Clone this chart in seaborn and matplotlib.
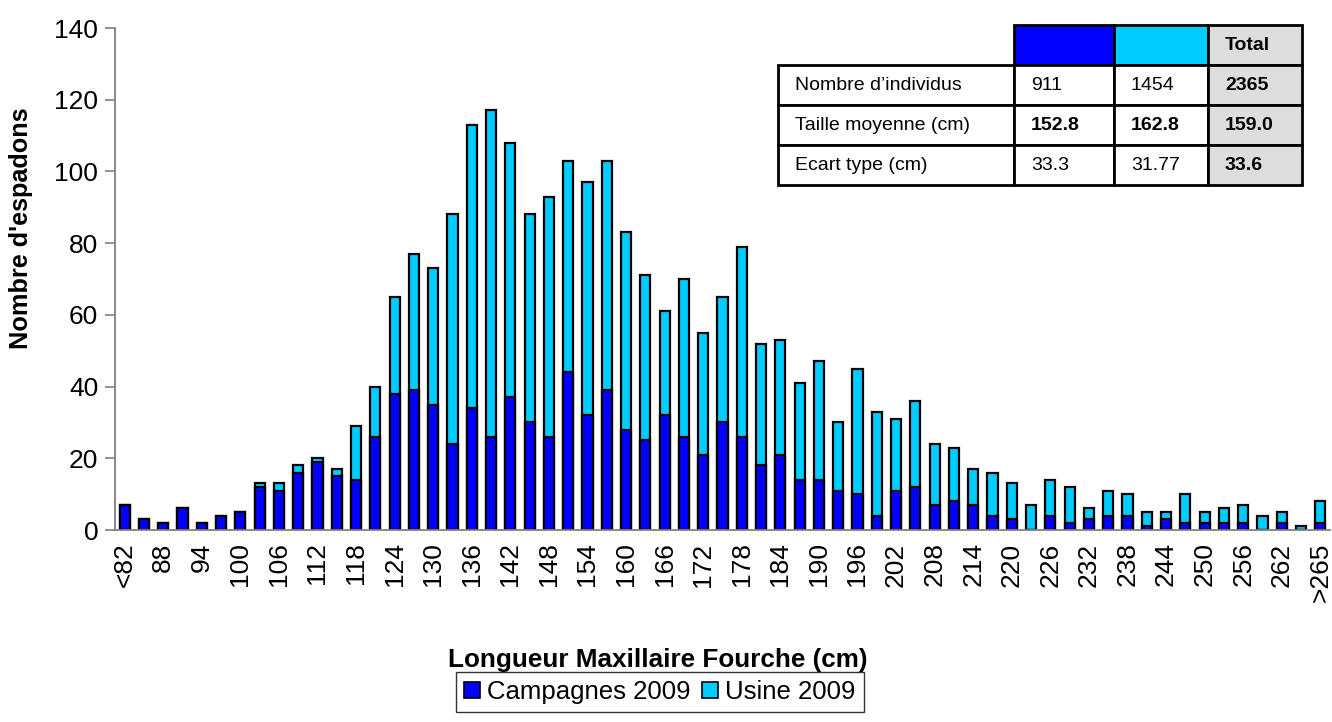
import matplotlib
matplotlib.use("Agg")
import matplotlib.pyplot as plt
import seaborn as sns
import pandas as pd
from matplotlib.patches import Patch

# ---------------- data ----------------
categories = ["<82"] + [str(v) for v in range(85, 266, 3)] + [">265"]
campagnes = [7, 3, 2, 6, 2, 4, 5, 12, 11, 16, 19, 15, 14, 26, 38, 39, 35, 24, 34, 26,
             37, 30, 26, 44, 32, 39, 28, 25, 32, 26, 21, 30, 26, 18, 21, 14, 14, 11, 10, 4,
             11, 12, 7, 8, 7, 4, 3, 0, 4, 2, 3, 4, 4, 1, 3, 2, 2, 2, 2, 0, 2, 0, 2]
totals = [7, 3, 2, 6, 2, 4, 5, 13, 13, 18, 20, 17, 29, 40, 65, 77, 73, 88, 113, 117,
          108, 88, 93, 103, 97, 103, 83, 71, 61, 70, 55, 65, 79, 52, 53, 41, 47, 30, 45, 33,
          31, 36, 24, 23, 17, 16, 13, 7, 14, 12, 6, 11, 10, 5, 5, 10, 5, 6, 7, 4, 5, 1, 8]
series_names = ["Campagnes 2009", "Usine 2009"]
y_ticks = [0, 20, 40, 60, 80, 100, 120, 140]

table_rows = ["Nombre d\u2019individus", "Taille moyenne (cm)", "Ecart type (cm)"]
table_campagnes = ["911", "152.8", "33.3"]
table_usine = ["1454", "162.8", "31.77"]
table_total = ["2365", "159.0", "33.6"]

df = pd.DataFrame({"cat": categories, "camp": campagnes, "total": totals})

# ---------------- style ----------------
sns.set_style("white")
plt.rcParams["font.family"] = ["Liberation Sans", "DejaVu Sans"]
plt.rcParams["text.color"] = "black"
plt.rcParams["axes.labelcolor"] = "black"
plt.rcParams["xtick.color"] = "black"
plt.rcParams["ytick.color"] = "black"

DARK = "#0000FF"
CYAN = "#00CCFF"
AXIS_GRAY = "#808080"

fig = plt.figure(figsize=(13.32, 7.22), dpi=100)
W, H = 1332, 722
ax_l, ax_r, ax_t, ax_b = 115, 1330, 28, 530
ax = fig.add_axes([ax_l / W, 1 - ax_b / H, (ax_r - ax_l) / W, (ax_b - ax_t) / H])

sns.barplot(data=df, x="cat", y="total", order=categories, color=CYAN,
            edgecolor="black", linewidth=1.6, width=0.52, saturation=1, ax=ax)
sns.barplot(data=df, x="cat", y="camp", order=categories, color=DARK,
            edgecolor="black", linewidth=1.6, width=0.52, saturation=1, ax=ax)

n = len(categories)
ax.set_xlim(-0.5, n - 0.5)
ax.set_ylim(0, 140)
ax.set_yticks(y_ticks)
ax.set_yticklabels([str(t) for t in y_ticks], fontsize=19)

label_idx = list(range(0, n - 1, 2)) + [n - 1]
ax.set_xticks(label_idx)
ax.set_xticklabels([categories[i] for i in label_idx], rotation=90, fontsize=19,
                   ha="center", va="top")
ax.set_xticks([i - 0.5 for i in range(n)], minor=True)
ax.tick_params(axis="x", which="major", length=0, pad=9, labelcolor="black")
ax.tick_params(axis="x", which="minor", length=7, width=1.2, color=AXIS_GRAY, direction="out")
ax.tick_params(axis="y", length=7, width=1.2, color=AXIS_GRAY, direction="out", pad=5,
               left=True, labelcolor="black")
ax.set_xlabel("")
ax.set_ylabel("")

for s in ["top", "right"]:
    ax.spines[s].set_visible(False)
for s in ["left", "bottom"]:
    ax.spines[s].set_color(AXIS_GRAY)
    ax.spines[s].set_linewidth(1.3)

# axis titles
fig.text(21 / W, 1 - 228 / H, "Nombre d'espadons", rotation=90, fontsize=18.2,
         fontweight="bold", ha="center", va="center", color="black")
fig.text(658 / W, 1 - 660 / H, "Longueur Maxillaire Fourche (cm)", fontsize=18.8,
         fontweight="bold", ha="center", va="center", color="black")

# legend
handles = [Patch(facecolor=DARK, edgecolor="black", linewidth=1.2),
           Patch(facecolor=CYAN, edgecolor="black", linewidth=1.2)]
leg = fig.legend(handles, series_names, loc="center", ncol=2,
                 bbox_to_anchor=(660 / W, 1 - 692 / H), fontsize=18.5,
                 frameon=True, fancybox=False, edgecolor="black",
                 handlelength=0.6, handleheight=0.6, handletextpad=0.3,
                 columnspacing=0.45, borderpad=0.3)
leg.get_frame().set_linewidth(1.0)
for t in leg.get_texts():
    t.set_color("black")

# statistics table
tx0, tx_right, ty0, ty1 = 778, 1302, 25, 185
col_w = [236, 100, 94, 94]
axw = (ax_r - ax_l)
axh = (ax_b - ax_t)
bbox = [(tx0 - ax_l) / axw, (ax_b - ty1) / axh, (tx_right - tx0) / axw, (ty1 - ty0) / axh]

cell_text = [["", "", "", "Total"]]
for i in range(3):
    cell_text.append([table_rows[i], table_campagnes[i], table_usine[i], table_total[i]])

tab = ax.table(cellText=cell_text, colWidths=[c / sum(col_w) for c in col_w],
               bbox=bbox, cellLoc="left")
tab.auto_set_font_size(False)
tab.set_fontsize(14)
for (r, c), cell in tab.get_celld().items():
    cell.set_linewidth(2.0)
    cell.set_edgecolor("black")
    cell.PAD = 17.0 / col_w[c]
    txt = cell.get_text()
    txt.set_fontsize(14)
    txt.set_color("black")
    if r == 0 and c == 0:
        cell.visible_edges = ""
        cell.set_facecolor("none")
    if r == 0 and c == 1:
        cell.set_facecolor(DARK)
    if r == 0 and c == 2:
        cell.set_facecolor(CYAN)
    if c == 3:
        cell.set_facecolor("#DDDDDD")
        txt.set_fontweight("bold")
    if r == 2 and c in (1, 2):
        txt.set_fontweight("bold")

fig.savefig("out.png", dpi=100)
